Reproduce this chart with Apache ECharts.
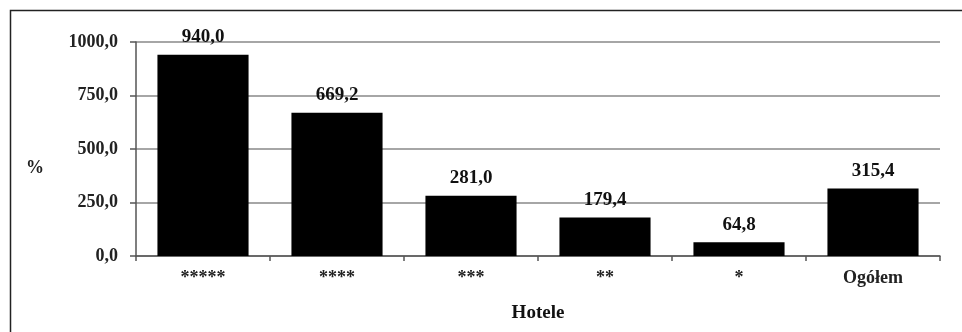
<!DOCTYPE html>
<html><head><meta charset="utf-8">
<script src="https://cdn.jsdelivr.net/npm/echarts@6/dist/echarts.min.js"></script>
<style>html,body{margin:0;padding:0;background:#fff}#c{width:962px;height:332px}</style>
</head><body><div id="c"></div>
<script>
const categories = ['*****', '****', '***', '**', '*', 'Ogółem'];
const values = [940.0, 669.2, 281.0, 179.4, 64.8, 315.4];
const yTicks = [0, 250, 500, 750, 1000];
const fmt = v => v.toFixed(1).replace('.', ',');
const font = '"Liberation Serif", "Times New Roman", serif';
const chart = echarts.init(document.getElementById('c'), null, {renderer: 'canvas'});
chart.setOption({
  animation: false,
  backgroundColor: '#fff',
  graphic: [{
    type: 'polyline', silent: true,
    shape: {points: [[10.5, 340], [10.5, 10.5], [970, 10.5]]},
    style: {stroke: '#222', lineWidth: 1.5, fill: null}
  }, {
    type: 'text', left: 26, top: 159, silent: true,
    style: {text: '%', font: 'bold 18px ' + font, fill: '#222'}
  }],
  grid: {left: 136, top: 42, width: 804, height: 214, containLabel: false},
  xAxis: {
    type: 'category', data: categories,
    name: 'Hotele', nameLocation: 'middle', nameGap: 48,
    nameTextStyle: {fontFamily: font, fontWeight: 'bold', fontSize: 19, color: '#111'},
    axisLine: {lineStyle: {color: '#555', width: 1.5}},
    axisTick: {show: true, alignWithLabel: false, length: 5, lineStyle: {color: '#555', width: 1.5}},
    axisLabel: {fontFamily: font, fontWeight: 'bold', fontSize: 18, color: '#222', margin: 13}
  },
  yAxis: {
    type: 'value', min: yTicks[0], max: yTicks[yTicks.length - 1], interval: 250,
    axisLine: {show: true, lineStyle: {color: '#555', width: 1.5}},
    axisTick: {show: true, length: 6, lineStyle: {color: '#555', width: 1.5}},
    axisLabel: {fontFamily: font, fontWeight: 'bold', fontSize: 18, color: '#222', margin: 18, formatter: v => fmt(v)},
    splitLine: {show: true, lineStyle: {color: '#888', width: 1.5}}
  },
  series: [{
    type: 'bar', data: values, barCategoryGap: '32%',
    itemStyle: {color: '#000'},
    label: {show: true, position: 'top', distance: 8, fontFamily: font, fontWeight: 'bold', fontSize: 19, color: '#111', formatter: p => fmt(p.value)}
  }]
});
</script></body></html>
